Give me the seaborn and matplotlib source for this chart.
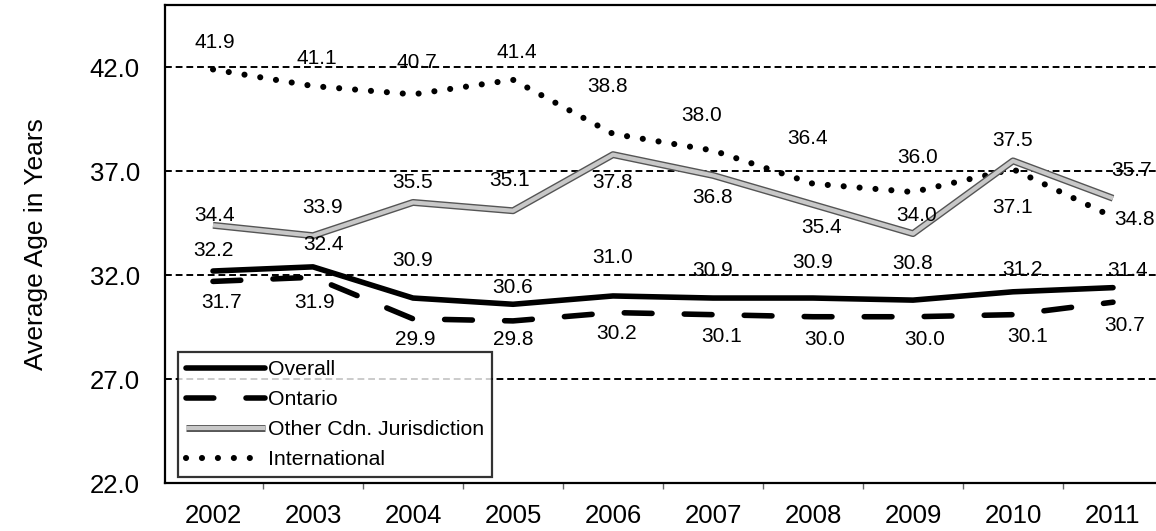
import numpy as np
import pandas as pd
import seaborn as sns
import matplotlib.pyplot as plt
from matplotlib.lines import Line2D
from matplotlib.legend_handler import HandlerTuple

# --- data ---
years = ["2002", "2003", "2004", "2005", "2006", "2007", "2008", "2009", "2010", "2011"]
overall = [32.2, 32.4, 30.9, 30.6, 31.0, 30.9, 30.9, 30.8, 31.2, 31.4]
ontario = [31.7, 31.9, 29.9, 29.8, 30.2, 30.1, 30.0, 30.0, 30.1, 30.7]
other_cdn = [34.4, 33.9, 35.5, 35.1, 37.8, 36.8, 35.4, 34.0, 37.5, 35.7]
international = [41.9, 41.1, 40.7, 41.4, 38.8, 38.0, 36.4, 36.0, 37.1, 34.8]
y_ticks = [22, 27, 32, 37, 42]

# label offsets in pixels (dx, dy; dy positive = up), as placed in the original
overall_off = [(0, 21), (10, 22), (0, 38), (0, 17), (0, 38), (0, 28), (0, 36), (0, 37), (10, 22), (15, 17)]
ontario_off = [(9, -21), (2, -25), (2, -21), (0, -19), (4, -21), (9, -22), (12, -23), (12, -23), (15, -22), (12, -23)]
other_off = [(2, 10), (10, 28), (0, 20), (-3, 30), (0, -28), (0, -22), (9, -23), (4, 18), (0, 20), (19, 28)]
intl_off = [(2, 27), (4, 28), (4, 32), (4, 27.5), (-5, 47), (-11, 35), (-5, 45), (5, 35), (0, -38), (22, -3)]

sns.set_theme(style="white")
plt.rcParams["font.family"] = ["Liberation Sans", "DejaVu Sans"]
plt.rcParams.update({"text.color": "black", "axes.labelcolor": "black",
                     "xtick.color": "black", "ytick.color": "black"})

fig = plt.figure(figsize=(11.56, 5.31), dpi=100)
W, H = 1156, 531
ax = fig.add_axes([165 / W, (H - 483) / H, (1163 - 165) / W, (483 - 5) / H])

x = np.arange(len(years))
df = pd.DataFrame({"x": x, "Overall": overall, "Ontario": ontario,
                   "Other": other_cdn, "International": international})

# dashed gridlines behind the data
for v in y_ticks[1:]:
    ax.axhline(v, color="black", lw=1.4, ls=(0, (3.5, 2)), zorder=1)

intl_style = dict(color="black", lw=4.4, ls=(0, (0.01, 2.6)), dash_capstyle="round")
other_base = dict(color="#555555", lw=5.0, solid_capstyle="butt")
other_top = dict(color="#c8c8c8", lw=3.0, solid_capstyle="butt")
ont_style = dict(color="black", lw=4.0, ls=(0, (5.0, 5.8)), dash_capstyle="round")
all_style = dict(color="black", lw=4.0, solid_capstyle="round")

sns.lineplot(data=df, x="x", y="International", ax=ax, zorder=3, **intl_style)
sns.lineplot(data=df, x="x", y="Other", ax=ax, zorder=3, **other_base)
sns.lineplot(data=df, x="x", y="Other", ax=ax, zorder=3, **other_top)
sns.lineplot(data=df, x="x", y="Ontario", ax=ax, zorder=3, **ont_style)
sns.lineplot(data=df, x="x", y="Overall", ax=ax, zorder=4, **all_style)

for vals, offs in [(overall, overall_off), (ontario, ontario_off),
                   (other_cdn, other_off), (international, intl_off)]:
    for i, (v, (dx, dy)) in enumerate(zip(vals, offs)):
        ax.annotate(f"{v:.1f}", (i, v), xytext=(dx, dy), textcoords="offset pixels",
                    ha="center", va="center", fontsize=15, color="black", zorder=5)

ax.set_xlim(-0.48, 9.5)
ax.set_ylim(22, 45)
ax.set_xticks(x)
ax.set_xticklabels(years, fontsize=18.5)
ax.set_xticks(np.arange(0.5, 10, 1), minor=True)
ax.tick_params(axis="x", which="major", length=0, pad=15)
ax.tick_params(axis="x", which="minor", length=4.5, width=1, color="#666666",
               direction="out", bottom=True)
ax.set_yticks(y_ticks)
ax.set_yticklabels([f"{v:.1f}" for v in y_ticks], fontsize=18.5)
ax.tick_params(axis="y", length=0, pad=18)
ax.set_xlabel("")
ax.set_ylabel("Average Age in Years", fontsize=19, labelpad=30)

for side in ["left", "bottom", "top"]:
    ax.spines[side].set_color("black")
    ax.spines[side].set_linewidth(1.6)
ax.spines["right"].set_visible(False)

h_overall = Line2D([], [], **all_style)
h_ontario = Line2D([], [], **ont_style)
h_other = (Line2D([], [], **other_base), Line2D([], [], **other_top))
h_intl = Line2D([], [], **intl_style)

leg = ax.legend([h_overall, h_ontario, h_other, h_intl],
                ["Overall", "Ontario", "Other Cdn. Jurisdiction", "International"],
                handler_map={tuple: HandlerTuple(ndivide=1, pad=0)},
                loc="lower left", bbox_to_anchor=(0.013, 0.012), fontsize=15.3,
                handlelength=3.7, handletextpad=0.15, labelspacing=0.52,
                borderpad=0.38, borderaxespad=0, frameon=True, fancybox=False)
leg.get_frame().set_edgecolor("black")
leg.get_frame().set_linewidth(1.6)
leg.set_zorder(6)

fig.savefig("out.png", dpi=100)
